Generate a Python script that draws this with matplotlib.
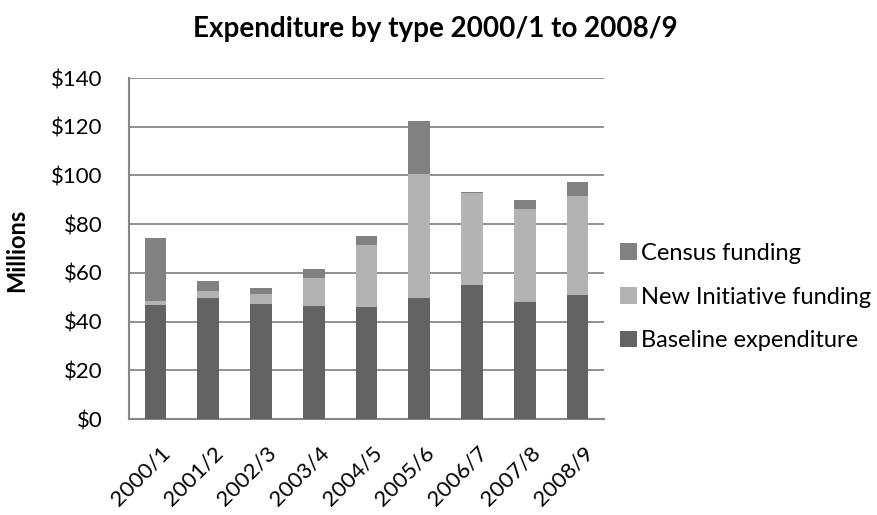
import matplotlib.pyplot as plt
import matplotlib.transforms as mtransforms
import numpy as np

# Expenditure by type, $ millions
years = ['2000/1', '2001/2', '2002/3', '2003/4', '2004/5',
         '2005/6', '2006/7', '2007/8', '2008/9']
baseline = [46.8, 49.7, 47.2, 46.4, 45.8, 49.7, 55.0, 48.2, 51.0]
new_initiative = [1.8, 3.0, 4.1, 11.5, 25.6, 50.9, 37.6, 38.0, 40.5]
census = [25.6, 4.1, 2.5, 3.5, 3.7, 21.9, 0.7, 3.6, 6.0]

plt.rcParams['font.family'] = ['Lato', 'DejaVu Sans']

fig = plt.figure(figsize=(8.77, 5.15), dpi=100)
ax = fig.add_axes([129 / 877, 1 - 419 / 515, (604 - 129) / 877, (419 - 78) / 515])

x = np.arange(len(years))
width = 0.41
bottom2 = np.array(baseline)
bottom3 = bottom2 + np.array(new_initiative)

ax.bar(x, baseline, width, color='#636363', label='Baseline expenditure', zorder=3)
ax.bar(x, new_initiative, width, bottom=bottom2, color='#b3b3b3',
       label='New Initiative funding', zorder=3)
ax.bar(x, census, width, bottom=bottom3, color='#818181',
       label='Census funding', zorder=3)

ax.set_xlim(-0.5, len(years) - 0.5)
ax.set_ylim(0, 140)
ax.set_yticks(range(0, 141, 20))
ax.set_yticklabels([f'${v}' for v in range(0, 141, 20)], fontsize=16)
ax.set_xticks(x)
ax.set_xticklabels(years, rotation=45, ha='right', rotation_mode='anchor', fontsize=16)
ax.tick_params(axis='y', length=0, pad=19)
ax.tick_params(axis='x', length=0, pad=17)

# nudge the slanted year labels a little to the right
shift = mtransforms.ScaledTranslation(5 / 100, 0, fig.dpi_scale_trans)
for lbl in ax.get_xticklabels():
    lbl.set_transform(lbl.get_transform() + shift)

ax.yaxis.grid(True, color='#878787', linewidth=1.3, zorder=0)
for side in ['top', 'right']:
    ax.spines[side].set_visible(False)
for side in ['left', 'bottom']:
    ax.spines[side].set_color('#878787')
    ax.spines[side].set_linewidth(1.5)

fig.text(17 / 877, 1 - 250 / 515, 'Millions', rotation=90, ha='center', va='center',
         fontsize=17, fontweight='bold')
fig.text(435 / 877, 1 - 29 / 515, 'Expenditure by type 2000/1 to 2008/9',
         ha='center', va='center', fontsize=20, fontweight='bold')

handles, labels = ax.get_legend_handles_labels()
fig.legend(handles[::-1], labels[::-1], loc='center left',
           bbox_to_anchor=(620 / 877, 1 - 297 / 515), frameon=False,
           borderaxespad=0, borderpad=0,
           fontsize=17, handlelength=0.7, handleheight=0.7,
           handletextpad=0.2, labelspacing=0.96)

fig.savefig('out.png', dpi=100)
